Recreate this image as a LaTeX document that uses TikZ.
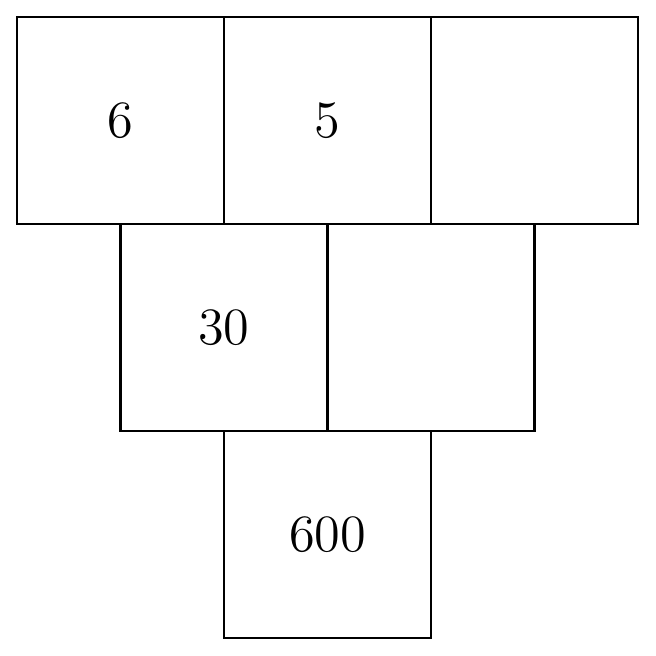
\documentclass[tikz,border=0pt]{standalone}
\usepackage{tikz}
\usetikzlibrary{positioning}
\tikzset{
    brick/.style={draw=black, minimum size=2cm, inner sep=0pt, outer sep=0pt, font=\Large},
}
\begin{document}
\begin{tikzpicture}[semithick, node distance=0cm]
	\useasboundingbox (-1.164,-5.174) rectangle (5.174,1.164);
	\node[brick] (a) at (0,0) {$6$};
	\node[brick, right=of a] (b) {$5$};
	\node[brick, right=of b] (c) {};
	\node[brick, below=of a.south east, anchor=north] (d) {$30$};
	\node[brick, right=of d] (e) {};
	\node[brick, below=of d.south east, anchor=north] (f) {$600$};
\end{tikzpicture}
\end{document}
